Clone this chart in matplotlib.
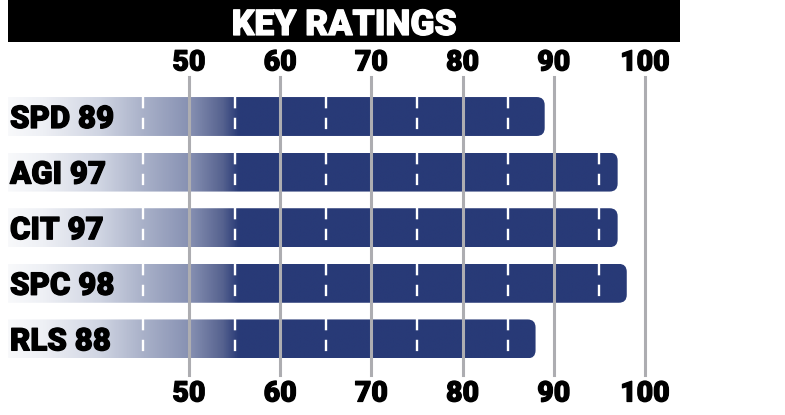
import numpy as np
import matplotlib
matplotlib.use("Agg")
import matplotlib.pyplot as plt
from matplotlib.path import Path
from matplotlib.patches import PathPatch, Rectangle
from matplotlib.colors import LinearSegmentedColormap
import matplotlib.transforms as mtransforms
import matplotlib.patheffects as pe

# ---------------- data ----------------
categories = ["SPD", "AGI", "CIT", "SPC", "RLS"]
ratings = [89, 97, 97, 98, 88]
ticks = [50, 60, 70, 80, 90, 100]
dash_marks = [45, 55, 65, 75, 85, 95]
title = "KEY RATINGS"

# ---------------- style ----------------
NAVY = "#283a77"
GRID = "#adadb1"
FONT = ["Roboto", "DejaVu Sans"]
WEIGHT = "black"
heavy_k = [pe.withStroke(linewidth=0.9, foreground="black")]
heavy_w = [pe.withStroke(linewidth=0.9, foreground="white")]

W, H = 785, 415
fig = plt.figure(figsize=(W / 100, H / 100), dpi=100)
ax = fig.add_axes([0, 0, 1, 1])
ax.axis("off")

px_per_unit = 9.12
x_at_50 = 189
xmin = 50 - x_at_50 / px_per_unit
xmax = xmin + W / px_per_unit
row_px = 55.6
first_px = 116.5
ytop = -first_px / row_px
ybot = ytop + H / row_px

bar_h = 0.70
bar_left = xmin + 8 / px_per_unit
grad_end = 55.5
rx = 8 / px_per_unit
ry = 8 / row_px

cmap = LinearSegmentedColormap.from_list(
    "g",
    [(0.0, "#f8f9fb"), (0.15, "#eef0f5"), (0.40, "#cfd4e2"), (0.59, "#a8b0c8"),
     (0.79, "#8690b2"), (0.93, "#56628f"), (1.0, NAVY)])
xs = np.linspace(bar_left, 100, 1000)
grad = np.clip((xs - bar_left) / (grad_end - bar_left), 0, 1)[None, :]

M, L, C3, CL = Path.MOVETO, Path.LINETO, Path.CURVE3, Path.CLOSEPOLY

for i, (c, v) in enumerate(zip(categories, ratings)):
    y0, y1 = i - bar_h / 2, i + bar_h / 2
    verts = [(bar_left, y0), (v - rx, y0), (v, y0), (v, y0 + ry),
             (v, y1 - ry), (v, y1), (v - rx, y1), (bar_left, y1), (bar_left, y0)]
    codes = [M, L, C3, C3, L, C3, C3, L, CL]
    patch = PathPatch(Path(verts, codes), facecolor="none", edgecolor="none")
    ax.add_patch(patch)
    im = ax.imshow(grad, cmap=cmap, vmin=0, vmax=1,
                   extent=(bar_left, 100, y1, y0), aspect="auto",
                   interpolation="bilinear", zorder=1)
    im.set_clip_path(patch)
    for d in dash_marks:
        if d < v - rx:
            ax.plot([d, d], [y0, y1], color="white", lw=1.7,
                    linestyle=(0, (4.8, 4.0)), zorder=2,
                    dash_capstyle="butt")
    ax.text(bar_left + 2 / px_per_unit, i + 11.5 / row_px, f"{c} {v}",
            ha="left", va="baseline", fontsize=22.5, family=FONT,
            fontweight=WEIGHT, color="black", zorder=4, path_effects=heavy_k)

# grid lines in front of bars
for t in ticks:
    ax.axvline(t, ymin=1 - 375 / H, ymax=1 - 77 / H, color=GRID, lw=2.2, zorder=3)

trans = mtransforms.blended_transform_factory(ax.transData, ax.transAxes)
for t in ticks:
    ax.text(t, 1 - 70.5 / H, str(t), transform=trans, ha="center", va="baseline",
            fontsize=20.5, family=FONT, fontweight=WEIGHT, color="black",
            path_effects=heavy_k)
    ax.text(t, 1 - 401.5 / H, str(t), transform=trans, ha="center", va="baseline",
            fontsize=20.5, family=FONT, fontweight=WEIGHT, color="black",
            path_effects=heavy_k)

ax.set_xlim(xmin, xmax)
ax.set_ylim(ybot, ytop)

# title bar
fig.patches.append(Rectangle((8 / W, 1 - 42 / H), 672 / W, 42 / H,
                             transform=fig.transFigure, facecolor="black",
                             edgecolor="none", zorder=0))
fig.text(344 / W, 1 - 35 / H, title, ha="center", va="baseline", fontsize=25.5,
         family=FONT, fontweight=WEIGHT, color="white", path_effects=heavy_w)

fig.savefig("out.png", dpi=100, facecolor="white")
